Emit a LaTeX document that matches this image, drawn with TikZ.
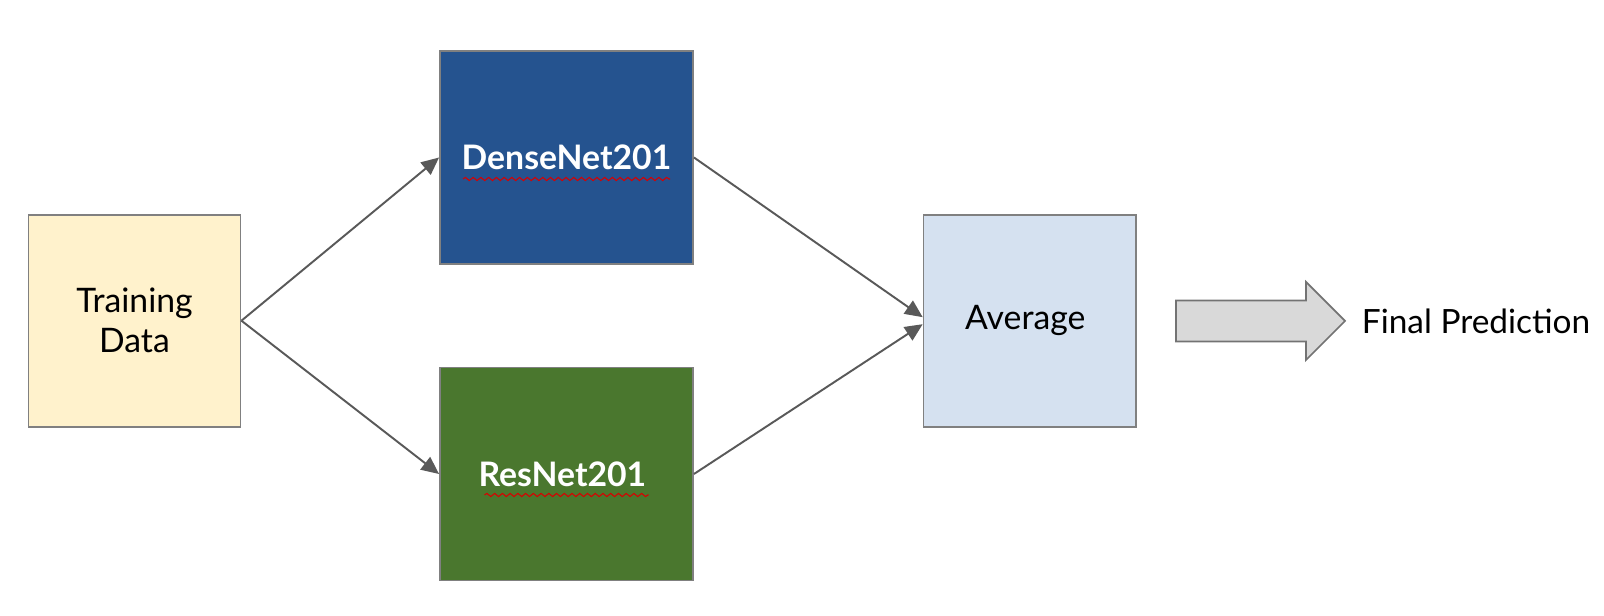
\documentclass[tikz,border=0pt]{standalone}
\usepackage{fontspec}
\setmainfont{Lato}
\usetikzlibrary{positioning}
\usetikzlibrary{arrows.meta,shapes.arrows}
\usetikzlibrary{decorations.pathmorphing}
\usetikzlibrary{calc}
\definecolor{trainfill}{HTML}{FFF2CC}
\definecolor{densefill}{HTML}{25538F}
\definecolor{resfill}{HTML}{4A772E}
\definecolor{avgfill}{HTML}{D5E1F0}
\definecolor{edgegray}{HTML}{595959}
\definecolor{blockfill}{HTML}{D9D9D9}
\tikzstyle{box}=[rectangle,draw=black!50,line width=0.5pt,inner sep=0pt,align=center,font=\fontsize{9.6}{11.4}\selectfont]
\tikzstyle{edge} = [draw,edgegray,line width=0.55pt,-{Triangle[length=5pt,width=4.5pt]}]
\tikzstyle{squiggle} = [red!85!black,line width=0.3pt,decorate,decoration={snake,amplitude=0.45pt,segment length=2.2pt}]

\begin{document}
\begin{tikzpicture}[x=0.01cm,y=-0.01cm]

  \useasboundingbox (0,0) rectangle (1604,616);

   % light boxes
   \foreach \x/\y/\name/\col/\label in { 134.5/320.7/train/trainfill/{Training\\Data}, 1029.6/320.7/avg/avgfill/Average }
          \node[box,fill=\col,minimum width=2.12cm,minimum height=2.12cm] (\name) at (\x, \y) {\label};

   % model boxes
   \foreach \x/\y/\name/\col/\label in { 566.5/157.5/dense/densefill/DenseNet201, 566.5/474/res/resfill/ResNet201 }
          \node[box,fill=\col,text=white,font=\fontsize{9.6}{11.4}\selectfont\bfseries,minimum width=2.53cm,minimum height=2.13cm] (\name) at (\x, \y) {\label};

   \draw[squiggle] ($(dense)+(-103.5,21.5)$) -- ($(dense)+(103.5,21.5)$);
   \draw[squiggle] ($(res)+(-82,21)$) -- ($(res)+(82,21)$);

  \foreach \source/ \dest/\sh in {train.east/dense.west/0pt, train.east/res.west/0pt, dense.east/avg.west/1pt, res.east/avg.west/-1pt}
         \draw[edge] (\source) -- ([yshift=\sh]\dest);

   \node[single arrow,draw=black!55,fill=blockfill,line width=0.5pt,inner xsep=0pt,inner ysep=0.195cm,minimum height=1.69cm,minimum width=0.76cm,single arrow head extend=0.185cm,single arrow tip angle=90,anchor=tail] (blk) at (1175, 321) {};
   \node[inner sep=0pt,anchor=west,font=\fontsize{9.5}{11.4}\selectfont] (final) at ([xshift=0.15cm]blk.tip) {Final Prediction};

   \end{tikzpicture}
\end{document}
